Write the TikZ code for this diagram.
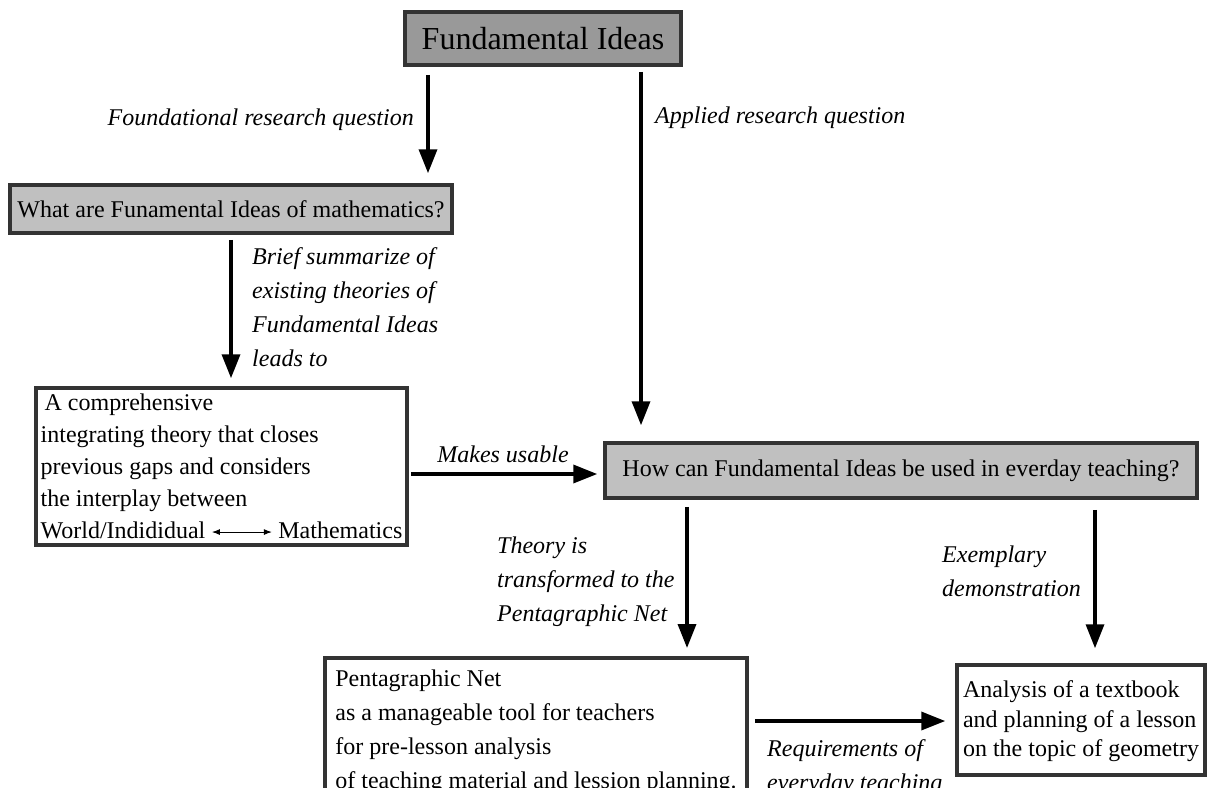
\documentclass[tikz,border=0pt]{standalone}
\usepackage{fontspec}
\setmainfont{Liberation Serif}
\usetikzlibrary{arrows.meta}
\definecolor{edge}{HTML}{333333}
\definecolor{darkfill}{HTML}{999999}
\definecolor{lightfill}{HTML}{C0C0C0}
\newcommand{\dblarrow}{\tikz[baseline=-0.6ex]\draw[line width=1pt,{Latex[length=8pt,width=6pt]}-{Latex[length=8pt,width=6pt]}] (0pt,0pt) -- (60pt,0pt);}
\begin{document}
\begin{tikzpicture}[x=1pt,y=-1pt,
  box/.style={draw=edge, line width=3.5pt, inner sep=0pt, font=\fontsize{24}{34}\selectfont},
  arr/.style={line width=3.5pt, -{Triangle[width=18pt,length=24pt]}},
  lab/.style={font=\fontsize{24}{34}\selectfont\itshape, inner sep=0pt, align=left}]
\useasboundingbox (0,0) rectangle (1209,787);
\clip (0,0) rectangle (1209,787);

% boxes
\node[box, fill=darkfill, minimum width=276pt, minimum height=53pt,
      font=\fontsize{32}{38}\selectfont] (fi) at (543,38.5) {Fundamental Ideas};
\node[box, fill=lightfill, minimum width=442pt, minimum height=48pt] (q1) at (231,209)
  {What are Funamental Ideas of mathematics?};
\node[box, fill=white, minimum width=371pt, minimum height=157pt, align=left,
      font=\fontsize{24}{32}\selectfont] (th) at (221.5,466.5)
  {\hspace{4pt}A comprehensive\\ integrating theory that closes\\ previous gaps and considers\\
   the interplay between\\ World/Indididual \dblarrow\ Mathematics};
\node[box, fill=lightfill, minimum width=592pt, minimum height=55pt] (q2) at (901,470.5)
  {How can Fundamental Ideas be used in everday teaching?};
\node[box, fill=white, minimum width=422pt, inner ysep=12pt, align=left, anchor=north] (net) at (536,656)
  {Pentagraphic Net\\ as a manageable tool for teachers\\ for pre-lesson analysis\\
   of teaching material and lession planning.};
\node[box, fill=white, minimum width=248pt, minimum height=110pt, align=left,
      font=\fontsize{24}{29.5}\selectfont] (ex) at (1081,720)
  {\rule{0pt}{20pt}Analysis of a textbook\\ and planning of a lesson\\ on the topic of geometry};

% labels
\node[lab, anchor=east] (l1) at (414,120) {Foundational research question};
\node[lab, anchor=west] (l2) at (655,118) {Applied research question};
\node[lab, anchor=north west] (l3) at (252,247)
  {Brief summarize of\\ existing theories of\\ Fundamental Ideas\\ leads to};
\node[lab, anchor=base] (l4) at (503,462) {Makes usable};
\node[lab, anchor=north west] (l5) at (497,537) {Theory is\\ transformed to the\\ Pentagraphic Net};
\node[lab, anchor=north west] (l6) at (942,546) {Exemplary\\ demonstration};
\node[lab, anchor=north west] (l7) at (767,739) {Requirements of\\ everyday teaching};

% guide coordinates
\coordinate (xa) at (428,0);
\coordinate (xb) at (641,0);
\coordinate (xc) at (231,0);
\coordinate (yd) at (0,474);
\coordinate (xe) at (687,0);
\coordinate (xf) at (1095,0);
\coordinate (yg) at (0,721);

% connectors
\draw[arr, shorten <=8pt, shorten >=10pt] (xa |- fi.south) -- (xa |- q1.north);
\draw[arr, shorten <=5pt, shorten >=16pt] (xb |- fi.south) -- (xb |- q2.north);
\draw[arr, shorten <=5pt, shorten >=8pt] (xc |- q1.south) -- (xc |- th.north);
\draw[arr, shorten <=2pt, shorten >=6pt] (th.east |- yd) -- (q2.west |- yd);
\draw[arr, shorten <=7pt, shorten >=8pt] (xe |- q2.south) -- (xe |- net.north);
\draw[arr, shorten <=10pt, shorten >=15pt] (xf |- q2.south) -- (xf |- ex.north);
\draw[arr, shorten <=6pt, shorten >=10pt] (net.east |- yg) -- (ex.west |- yg);
\end{tikzpicture}
\end{document}
